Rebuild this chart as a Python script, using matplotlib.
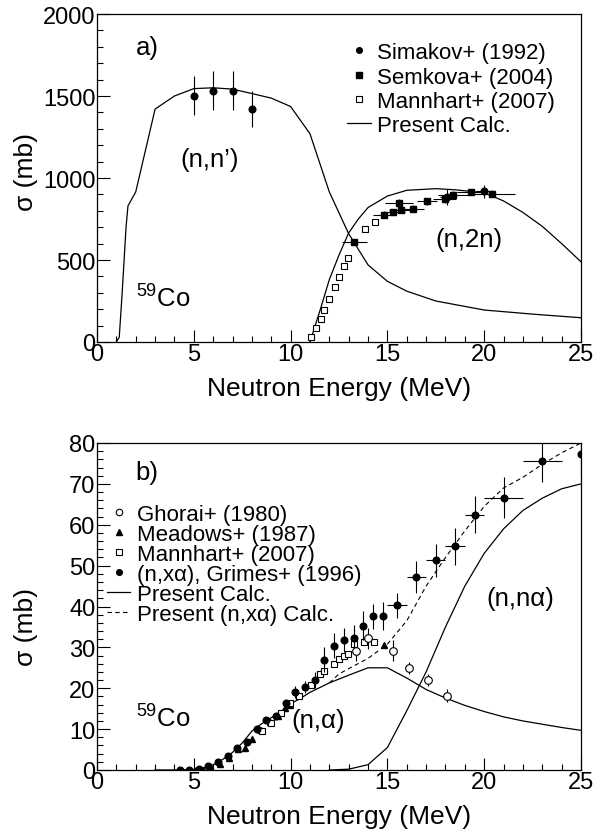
import numpy as np
import matplotlib
matplotlib.use('Agg')
import matplotlib.pyplot as plt
from matplotlib.ticker import MultipleLocator

plt.rcParams['font.family'] = ['Liberation Sans', 'DejaVu Sans']
plt.rcParams['mathtext.fontset'] = 'custom'
plt.rcParams['mathtext.rm'] = 'Liberation Sans'
plt.rcParams['mathtext.it'] = 'Liberation Sans'

# ---- panel a) data ----
nn_calc_e = [1.0, 1.15, 1.3, 1.5, 1.6, 2.0, 3.0, 4.0, 5.0, 6.0, 7.0, 8.0, 9.0, 10.0,
             11.0, 12.0, 13.0, 14.0, 15.0, 16.0, 17.5, 20.0, 22.5, 25.0]
nn_calc_s = [0, 30, 300, 700, 830, 915, 1420, 1500, 1545, 1550, 1542, 1515, 1487, 1436,
             1270, 915, 660, 470, 370, 310, 250, 195, 170, 148]
n2n_calc_e = [11.0, 11.5, 12.0, 12.5, 13.0, 13.5, 14.0, 15.0, 16.0, 17.5, 18.5, 20.0,
              21.0, 22.0, 23.0, 24.0, 25.0]
n2n_calc_s = [0, 185, 380, 530, 665, 750, 820, 890, 925, 935, 928, 910, 860, 790, 705, 600, 489]

simakov_e = [5.0, 6.0, 7.0, 8.0, 18.1, 20.0]
simakov_s = [1503, 1533, 1533, 1422, 885, 918]
simakov_ds = [117, 118, 118, 110, 50, 40]
simakov_de = [0, 0, 0, 0, 0.4, 0.4]

semkova_e = [13.3, 14.85, 15.3, 15.6, 15.7, 16.3, 17.05, 17.95, 18.4, 19.3, 20.4]
semkova_s = [610, 777, 793, 846, 806, 814, 858, 872, 894, 915, 905]
semkova_de = [0.65, 0.6, 0.6, 0.7, 0.6, 0.6, 0.5, 0.6, 0.8, 0.7, 1.2]
semkova_ds = [20, 20, 20, 25, 20, 20, 20, 25, 25, 20, 20]

mannhart_a_e = [11.05, 11.3, 11.55, 11.75, 12.0, 12.3, 12.5, 12.75, 12.95, 13.85, 14.35]
mannhart_a_s = [33, 85, 142, 195, 264, 335, 396, 463, 510, 686, 732]

# ---- panel b) data ----
na_calc_e = [3.0, 4.0, 4.5, 5.0, 5.5, 6.0, 6.5, 7.0, 7.5, 8.0, 8.5, 9.0, 9.5, 10.0, 10.5,
             11.0, 12.0, 13.0, 14.0, 15.0, 16.0, 17.0, 18.0, 19.0, 20.0, 21.0, 22.0,
             23.0, 24.0, 25.0]
na_calc_s = [0, 0.02, 0.05, 0.15, 0.5, 1.3, 2.6, 4.3, 6.6, 9.5, 11.3, 12.8, 14.3, 16.2,
             17.5, 19.0, 21.3, 23.2, 25.0, 25.0, 22.5, 19.7, 17.6, 15.8, 14.3, 13.0,
             12.0, 11.2, 10.4, 9.7]
nxa_calc_e = [12.0, 12.5, 13.0, 14.0, 15.0, 16.0, 17.0, 18.0, 19.0, 20.0, 21.0, 22.0,
              23.0, 24.0, 25.0]
nxa_calc_s = [21.3, 23.5, 24.8, 27.3, 30.8, 36.5, 45.0, 52.0, 58.5, 64.5, 69.0, 71.6,
              74.8, 77.6, 80.0]
nna_calc_e = [12.0, 13.0, 14.0, 15.0, 16.0, 17.0, 18.0, 19.0, 20.0, 21.0, 22.0, 23.0,
              24.0, 25.0]
nna_calc_s = [0, 0.2, 1.3, 5.5, 14.5, 24.0, 35.0, 45.0, 53.0, 59.0, 63.5, 66.5, 68.8, 70.0]

ghorai_e = [13.4, 14.0, 15.3, 16.1, 17.1, 18.1]
ghorai_s = [29.2, 32.2, 29.2, 25.0, 22.0, 18.2]
ghorai_ds = [2.5, 2.5, 2.5, 1.5, 1.5, 1.5]

meadows_e = [5.1, 5.5, 5.9, 6.35, 6.8, 7.3, 7.65, 8.0, 8.45, 8.95, 9.35, 9.7, 9.95, 14.8]
meadows_s = [0, 0.1, 0.6, 1.5, 2.9, 5.1, 5.5, 7.6, 9.8, 11.8, 13.3, 15.1, 15.8, 30.6]

mannhart_b_e = [8.5, 9.0, 9.5, 9.95, 10.45, 11.05, 11.5, 11.75, 12.25, 12.5, 12.75,
                12.95, 13.3, 13.8, 14.3]
mannhart_b_s = [9.5, 11.6, 14.0, 16.3, 18.0, 20.8, 23.4, 24.1, 25.9, 27.2, 28.0, 28.5,
                30.8, 31.4, 31.2]

grimes_e = [4.3, 4.75, 5.25, 5.75, 6.25, 6.75, 7.25, 7.75, 8.25, 8.75, 9.25, 9.75, 10.25,
            10.75, 11.25, 11.75, 12.25, 12.75, 13.25, 13.75, 14.25, 14.75, 15.5, 16.5,
            17.5, 18.5, 19.5, 21.0, 23.0, 25.0]
grimes_s = [0, 0, 0.2, 0.9, 1.9, 3.5, 5.3, 6.8, 10.0, 12.3, 13.3, 16.4, 19.1, 20.3, 22.0,
            27.0, 30.4, 31.8, 32.4, 35.3, 37.6, 37.7, 40.3, 47.2, 51.3, 54.7, 62.5, 66.6,
            75.7, 77.2]
grimes_ds = [0, 0, 0, 0, 0, 0, 0, 0, 0, 0, 0, 0, 1.5, 1.5, 2.0, 3.0, 3.0, 3.0, 3.0, 3.5,
             3.0, 3.5, 3.0, 4.0, 4.0, 4.5, 4.5, 5.0, 5.3, 5.0]
grimes_de = [0, 0, 0, 0, 0, 0, 0, 0, 0, 0, 0, 0, 0, 0, 0, 0, 0, 0, 0, 0, 0, 0,
             0.5, 0.5, 0.5, 0.5, 0.5, 1.0, 1.0, 0]

TICK_FS = 17
LAB_FS = 19
LEG_FS = 16
ANN_FS = 18.5


def style_axes(ax, ymax, ymaj, ymin, ylab_y):
    ax.set_xlim(0, 25)
    ax.set_ylim(0, ymax)
    ax.xaxis.set_major_locator(MultipleLocator(5))
    ax.xaxis.set_minor_locator(MultipleLocator(1))
    ax.yaxis.set_major_locator(MultipleLocator(ymaj))
    ax.yaxis.set_minor_locator(MultipleLocator(ymin))
    ax.tick_params(which='both', direction='in', top=False, right=False,
                   labelsize=TICK_FS, width=0.8)
    ax.tick_params(which='major', length=9)
    ax.tick_params(which='minor', length=4.5)
    ax.tick_params(axis='x', pad=1)
    ax.tick_params(axis='y', pad=1)
    for s in ax.spines.values():
        s.set_linewidth(0.9)
    ax.set_xlabel('Neutron Energy (MeV)', fontsize=LAB_FS, labelpad=8)
    ax.set_ylabel('σ (mb)', fontsize=LAB_FS)
    ax.yaxis.set_label_coords(-0.122, ylab_y)


fig = plt.figure(figsize=(5.98, 8.37), dpi=100)
axa = fig.add_axes([97 / 598, 1 - 343 / 837, 484 / 598, 328 / 837])
axb = fig.add_axes([97 / 598, 1 - 771 / 837, 484 / 598, 327 / 837])

# panel a
la, = axa.plot(nn_calc_e, nn_calc_s, color='black', lw=0.9)
axa.plot(n2n_calc_e, n2n_calc_s, color='black', lw=0.9)
sem = axa.errorbar(semkova_e, semkova_s, xerr=semkova_de, yerr=semkova_ds, fmt='s', ms=4.5,
                   color='black', elinewidth=0.8, capsize=0)
sim = axa.errorbar(simakov_e, simakov_s, xerr=simakov_de, yerr=simakov_ds, fmt='o', ms=4.8,
                   color='black', elinewidth=0.8, capsize=0)
man_a, = axa.plot(mannhart_a_e, mannhart_a_s, 's', ms=5, mfc='white', mec='black', mew=0.8)
style_axes(axa, 2000, 500, 100, 0.52)
axa.text(2.0, 1797, 'a)', fontsize=ANN_FS, va='center')
axa.text(5.8, 1118, "(n,n’)", fontsize=ANN_FS, ha='center', va='center')
axa.text(19.2, 631, '(n,2n)', fontsize=ANN_FS, ha='center', va='center')
axa.text(2.04, 266, r'$^{59}$Co', fontsize=ANN_FS, va='center')
axa.legend([sim[0], sem[0], man_a, la],
           ['Simakov+ (1992)', 'Semkova+ (2004)', 'Mannhart+ (2007)', 'Present Calc.'],
           loc='upper left', bbox_to_anchor=(0.517, 0.914), frameon=False, fontsize=LEG_FS,
           handlelength=1.05, handletextpad=0.3, labelspacing=0.15, borderpad=0,
           borderaxespad=0, markerscale=0.85)

# panel b
lb, = axb.plot(na_calc_e, na_calc_s, color='black', lw=0.9)
axb.plot(nna_calc_e, nna_calc_s, color='black', lw=0.9)
lx, = axb.plot(nxa_calc_e, nxa_calc_s, color='black', lw=0.8, ls=(0, (4, 3)))
gho = axb.errorbar(ghorai_e, ghorai_s, yerr=ghorai_ds, fmt='o', ms=5.5, mfc='white',
                   mec='black', mew=0.8, color='black', elinewidth=0.8, capsize=0)
mea, = axb.plot(meadows_e, meadows_s, '^', ms=4.8, color='black')
man_b, = axb.plot(mannhart_b_e, mannhart_b_s, 's', ms=5, mfc='white', mec='black', mew=0.8)
gri = axb.errorbar(grimes_e, grimes_s, xerr=grimes_de, yerr=grimes_ds, fmt='o', ms=4.8,
                   color='black', elinewidth=0.8, capsize=0)
style_axes(axb, 80, 10, 2, 0.44)
axb.text(2.0, 72.8, 'b)', fontsize=ANN_FS, va='center')
axb.text(21.85, 42, '(n,nα)', fontsize=ANN_FS, ha='center', va='center')
axb.text(11.4, 12.3, '(n,α)', fontsize=ANN_FS, ha='center', va='center')
axb.text(2.0, 12.7, r'$^{59}$Co', fontsize=ANN_FS, va='center')
axb.legend([gho[0], mea, man_b, gri[0], lb, lx],
           ['Ghorai+ (1980)', 'Meadows+ (1987)', 'Mannhart+ (2007)',
            '(n,xα), Grimes+ (1996)', 'Present Calc.', 'Present (n,xα) Calc.'],
           loc='upper left', bbox_to_anchor=(0.021, 0.813), frameon=False, fontsize=LEG_FS,
           handlelength=1.05, handletextpad=0.3, labelspacing=-0.05, borderpad=0,
           borderaxespad=0, markerscale=0.85)

fig.savefig('out.png', dpi=100)
